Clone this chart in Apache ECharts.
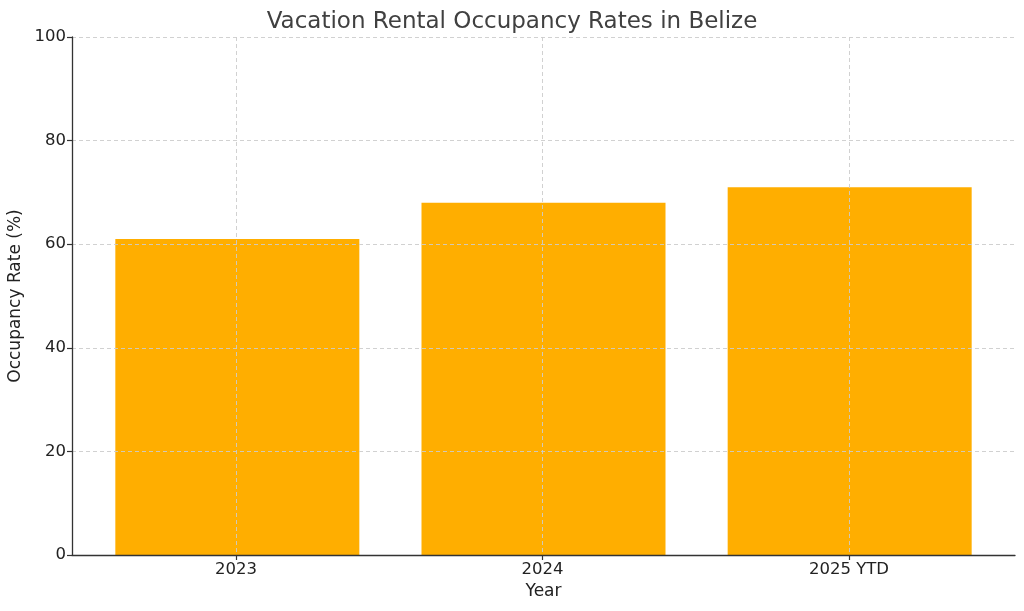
<!DOCTYPE html>
<html>
<head>
<meta charset="utf-8">
<title>Vacation Rental Occupancy Rates in Belize</title>
<script src="https://cdn.jsdelivr.net/npm/echarts@6/dist/echarts.min.js"></script>
<style>
  html, body { margin: 0; padding: 0; background: #ffffff; }
  #chart { width: 1024px; height: 611px; }
</style>
</head>
<body>
<div id="chart"></div>
<script>
// data
var years = ['2023', '2024', '2025 YTD']
var occupancy = [61, 68, 71]
var yTicks = [0, 20, 40, 60, 80, 100]

var font = 'DejaVu Sans'
var gridColor = '#cccccc'
var axisColor = '#333333'

// bars sit on a value axis at 0,1,2 (matplotlib style margins),
// the labelled category axis lives in a second grid spanning the centres
var barData = occupancy.map(function (v, i) { return [i, v] })

var chart = echarts.init(document.getElementById('chart'))
chart.setOption({
  backgroundColor: '#ffffff',
  animation: false,
  title: {
    text: 'Vacation Rental Occupancy Rates in Belize',
    left: 'center',
    top: 6,
    textStyle: { fontFamily: font, fontSize: 23, fontWeight: 'normal', color: '#404040' }
  },
  grid: [
    { left: 72, right: 9, top: 37, bottom: 56, outerBoundsMode: 'none' },
    { left: 236, right: 175, top: 37, bottom: 56, outerBoundsMode: 'none' }
  ],
  xAxis: [
    {
      type: 'value',
      gridIndex: 0,
      min: -0.54,
      max: 2.54,
      z: 3,
      name: 'Year',
      nameLocation: 'middle',
      nameGap: 28,
      nameTextStyle: { fontFamily: font, fontSize: 17, color: '#222222' },
      axisLine: { show: true, onZero: false, lineStyle: { color: axisColor, width: 1.3 } },
      axisTick: { show: false },
      axisLabel: { show: false },
      splitLine: { show: false }
    },
    {
      type: 'category',
      gridIndex: 1,
      data: years,
      boundaryGap: false,
      z: 3,
      axisLine: { show: false },
      axisTick: { show: true, length: 5, lineStyle: { color: axisColor, width: 1.2 } },
      axisLabel: { fontFamily: font, fontSize: 16.5, color: '#222222', margin: 6 },
      splitLine: { show: true, lineStyle: { color: gridColor, type: [4, 3], width: 0.9 } }
    }
  ],
  yAxis: [
    {
      type: 'value',
      gridIndex: 0,
      min: yTicks[0],
      max: yTicks[yTicks.length - 1],
      interval: 20,
      z: 3,
      name: 'Occupancy Rate (%)',
      nameLocation: 'middle',
      nameGap: 41,
      nameTextStyle: { fontFamily: font, fontSize: 17, color: '#222222' },
      axisLine: { show: true, onZero: false, lineStyle: { color: axisColor, width: 1.3 } },
      axisTick: { show: true, length: 5, lineStyle: { color: axisColor, width: 1.2 } },
      axisLabel: { fontFamily: font, fontSize: 16.5, color: '#222222', margin: 6 },
      splitLine: { show: true, lineStyle: { color: gridColor, type: [4, 3], width: 0.9 } }
    },
    {
      type: 'value',
      gridIndex: 1,
      min: 0,
      max: 100,
      show: false
    }
  ],
  series: [
    {
      type: 'bar',
      xAxisIndex: 0,
      yAxisIndex: 0,
      data: barData,
      barWidth: 244,
      itemStyle: { color: '#ffae00' }
    }
  ]
})
</script>
</body>
</html>
